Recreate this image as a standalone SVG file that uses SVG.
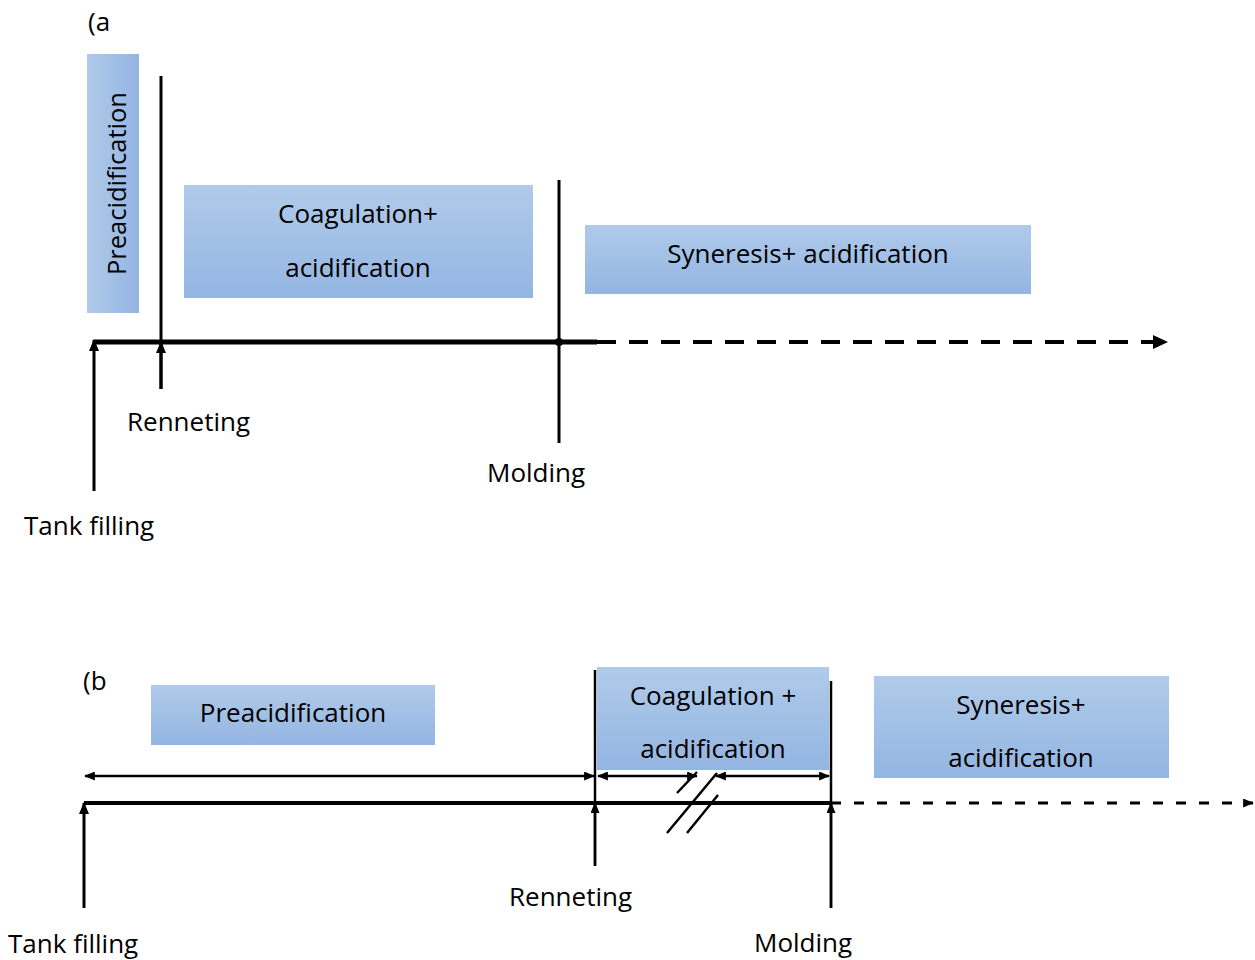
<svg xmlns="http://www.w3.org/2000/svg" width="1255" height="960" viewBox="0 0 1255 960">
<style>
text{font-family:"Open Sans","Noto Sans","Liberation Sans",sans-serif;font-size:26px;fill:#000}
.box{fill:url(#gv)}
.ln{stroke:#000;fill:none}
</style>
<defs>
<linearGradient id="gv" x1="0" y1="0" x2="0" y2="1">
<stop offset="0" stop-color="#b0cbea"/>
<stop offset="1" stop-color="#93b5e2"/>
</linearGradient>
<linearGradient id="gh" x1="0" y1="0" x2="1" y2="0">
<stop offset="0" stop-color="#b0cbea"/>
<stop offset="1" stop-color="#93b5e2"/>
</linearGradient>
<marker id="ah" viewBox="0 0 12 10" refX="11" refY="5" markerWidth="12" markerHeight="10" markerUnits="userSpaceOnUse" orient="auto-start-reverse">
<path d="M0,0 L12,5 L0,10 z" fill="#000"/>
</marker>
<marker id="ahs" viewBox="0 0 12 10" refX="11" refY="5" markerWidth="11" markerHeight="9" markerUnits="userSpaceOnUse" orient="auto-start-reverse">
<path d="M0,0 L12,5 L0,10 z" fill="#000"/>
</marker>
<marker id="ahbig" viewBox="0 0 15 14" refX="14" refY="7" markerWidth="15" markerHeight="14" markerUnits="userSpaceOnUse" orient="auto">
<path d="M0,0 L15,7 L0,14 z" fill="#000"/>
</marker>
</defs>

<!-- ===== Panel (a) ===== -->
<text id="label-a" x="88" y="31">(a</text>

<g id="a-preacidification">
<rect x="87" y="54" width="52" height="259" fill="url(#gh)"/>
<text transform="translate(126,275) rotate(-90)" textLength="183" lengthAdjust="spacingAndGlyphs">Preacidification</text>
</g>

<g id="a-coagulation">
<rect class="box" x="184" y="185" width="349" height="113"/>
<text x="358" y="223" text-anchor="middle">Coagulation+</text>
<text x="358" y="277" text-anchor="middle">acidification</text>
</g>

<g id="a-syneresis">
<rect class="box" x="585" y="225" width="446" height="69"/>
<text x="808" y="263" text-anchor="middle">Syneresis+ acidification</text>
</g>

<g id="a-connectors">
<line class="ln" x1="94" y1="342" x2="597" y2="342" stroke-width="5"/>
<line class="ln" x1="597" y1="342" x2="1167" y2="342" stroke-width="4" stroke-dasharray="19 13" marker-end="url(#ahbig)"/>
<line class="ln" x1="94" y1="491" x2="94" y2="340" stroke-width="3" marker-end="url(#ah)"/>
<line class="ln" x1="161" y1="76" x2="161" y2="389" stroke-width="3"/>
<line class="ln" x1="161" y1="389" x2="161" y2="342" stroke-width="3" marker-end="url(#ah)"/>
<line class="ln" x1="559" y1="180" x2="559" y2="443" stroke-width="3"/>
<circle cx="559" cy="342" r="4" fill="#000"/>
</g>

<g id="a-renneting"><text x="127" y="431">Renneting</text></g>
<g id="a-molding"><text x="487" y="482">Molding</text></g>
<g id="a-tank"><text x="24" y="535">Tank filling</text></g>

<!-- ===== Panel (b) ===== -->
<text id="label-b" x="83" y="690">(b</text>

<g id="b-preacidification">
<rect class="box" x="151" y="685" width="284" height="60"/>
<text x="293" y="722" text-anchor="middle">Preacidification</text>
</g>

<g id="b-coagulation">
<rect class="box" x="597" y="667" width="232" height="103"/>
<text x="713" y="705" text-anchor="middle">Coagulation +</text>
<text x="713" y="758" text-anchor="middle">acidification</text>
</g>

<g id="b-syneresis">
<rect class="box" x="874" y="676" width="295" height="102"/>
<text x="1021" y="714" text-anchor="middle">Syneresis+</text>
<text x="1021" y="767" text-anchor="middle">acidification</text>
</g>

<g id="b-connectors">
<line class="ln" x1="84" y1="803" x2="831" y2="803" stroke-width="4"/>
<line class="ln" x1="831" y1="803" x2="1253" y2="803" stroke-width="3" stroke-dasharray="10 13" marker-end="url(#ahs)"/>
<line class="ln" x1="85" y1="776" x2="594" y2="776" stroke-width="2.5" marker-start="url(#ahs)" marker-end="url(#ahs)"/>
<line class="ln" x1="598" y1="776" x2="697" y2="776" stroke-width="2.5" marker-start="url(#ahs)" marker-end="url(#ahs)"/>
<line class="ln" x1="716" y1="776" x2="829" y2="776" stroke-width="2.5" marker-start="url(#ahs)" marker-end="url(#ahs)"/>
<line class="ln" x1="84" y1="908" x2="84" y2="803" stroke-width="3" marker-end="url(#ah)"/>
<line class="ln" x1="595" y1="670" x2="595" y2="866" stroke-width="2.5"/>
<line class="ln" x1="595" y1="866" x2="595" y2="803" stroke-width="2.5" marker-end="url(#ahs)"/>
<line class="ln" x1="831" y1="681" x2="831" y2="908" stroke-width="2.5"/>
<line class="ln" x1="831" y1="908" x2="831" y2="803" stroke-width="2.5" marker-end="url(#ahs)"/>
<line class="ln" x1="677" y1="793" x2="697" y2="772" stroke-width="2.5"/>
<line class="ln" x1="667" y1="833" x2="717" y2="773" stroke-width="2.5"/>
<line class="ln" x1="687" y1="833" x2="718" y2="795" stroke-width="2.5"/>
</g>

<g id="b-renneting"><text x="509" y="906">Renneting</text></g>
<g id="b-tank"><text x="8" y="953">Tank filling</text></g>
<g id="b-molding"><text x="754" y="952">Molding</text></g>
</svg>
